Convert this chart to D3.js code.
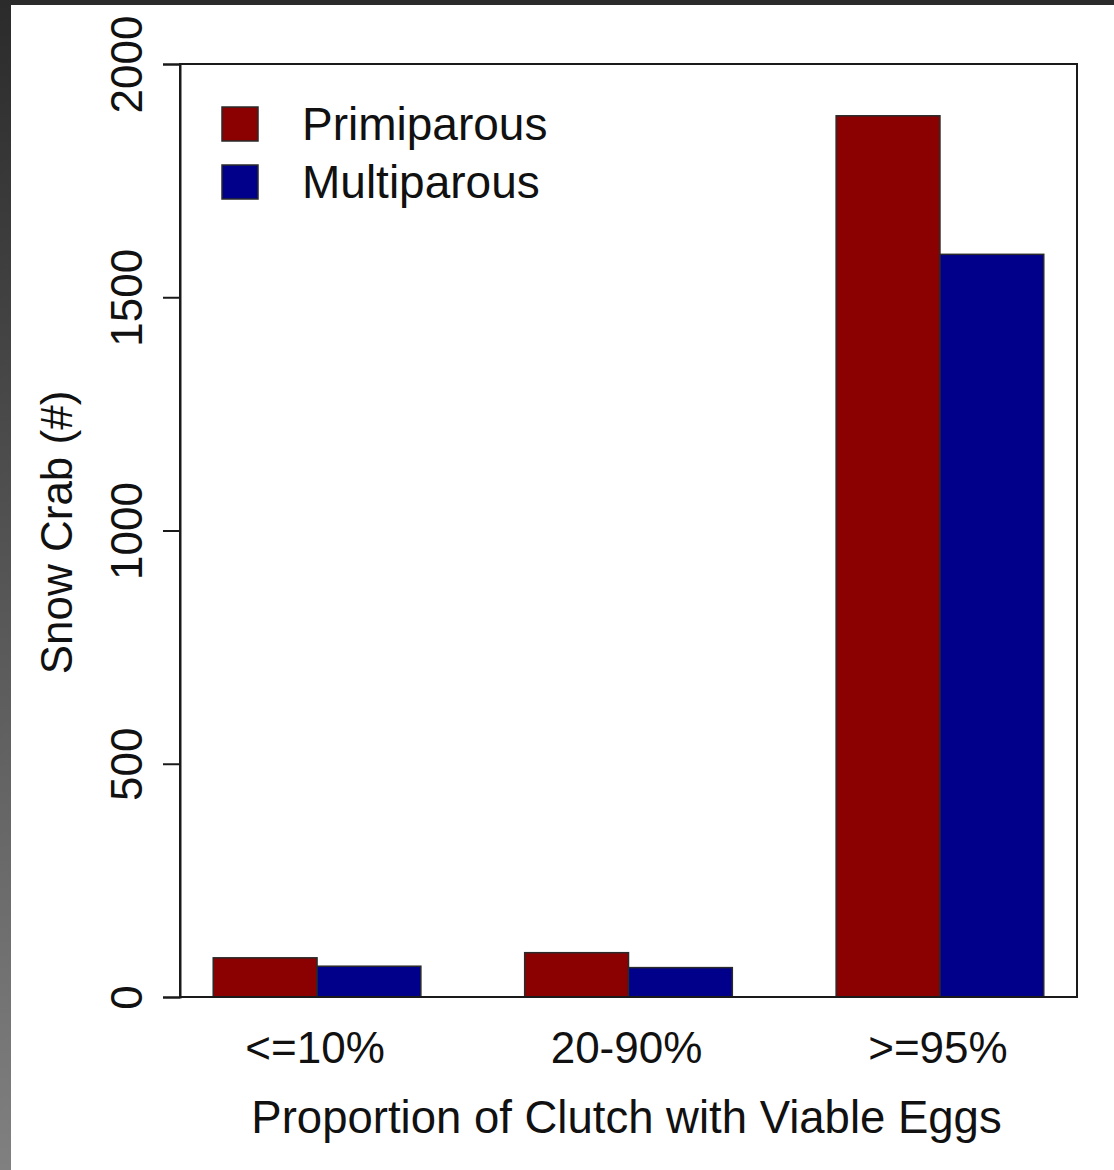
<!DOCTYPE html>
<html>
<head>
<meta charset="utf-8">
<script src="https://cdn.jsdelivr.net/npm/d3@7"></script>
<style>
  html, body { margin: 0; padding: 0; background: #ffffff; }
  svg { display: block; }
  text { font-family: "Liberation Sans", Arial, sans-serif; fill: #111; }
</style>
</head>
<body>
<svg id="chart" width="1114" height="1170"></svg>
<script>
const categories = ["<=10%", "20-90%", ">=95%"];
const seriesNames = ["Primiparous", "Multiparous"];
const primiparous = [84, 95, 1889];
const multiparous = [66, 63, 1592];
const yTicks = [0, 500, 1000, 1500, 2000];
const seriesColors = ["#8b0000", "#00008b"];

const W = 1114, H = 1170;
const svg = d3.select("#chart");

// screenshot border
const defs = svg.append("defs");
const grad = defs.append("linearGradient").attr("id", "leftEdge")
  .attr("x1", 0).attr("y1", 0).attr("x2", 0).attr("y2", 1);
grad.append("stop").attr("offset", "0%").attr("stop-color", "#2b2b2b");
grad.append("stop").attr("offset", "100%").attr("stop-color", "#808080");
svg.append("rect").attr("x", 0).attr("y", 0).attr("width", W).attr("height", 5).attr("fill", "#2b2b2b");
svg.append("rect").attr("x", 0).attr("y", 0).attr("width", 11).attr("height", H).attr("fill", "url(#leftEdge)");

const plot = { left: 180, right: 1077, top: 64, bottom: 997 };

const x0 = d3.scaleBand().domain(categories)
  .range([plot.left, plot.right])
  .paddingInner(1 / 3).paddingOuter(0.1067);
const x1 = d3.scaleBand().domain(seriesNames).range([0, x0.bandwidth()]);
const y = d3.scaleLinear().domain([0, 2000]).range([plot.bottom, plot.top]);
const color = d3.scaleOrdinal().domain(seriesNames).range(seriesColors);

const data = categories.map((c, i) => ({
  cat: c,
  values: [
    { name: seriesNames[0], value: primiparous[i] },
    { name: seriesNames[1], value: multiparous[i] }
  ]
}));

// bars
const groups = svg.append("g").selectAll("g").data(data).join("g")
  .attr("transform", d => `translate(${x0(d.cat)},0)`);
groups.selectAll("rect").data(d => d.values).join("rect")
  .attr("x", d => x1(d.name))
  .attr("y", d => y(d.value))
  .attr("width", x1.bandwidth())
  .attr("height", d => y(0) - y(d.value))
  .attr("fill", d => color(d.name))
  .attr("stroke", "#2a2a2a")
  .attr("stroke-width", 1.5);

// box
svg.append("rect")
  .attr("x", plot.left).attr("y", plot.top)
  .attr("width", plot.right - plot.left).attr("height", plot.bottom - plot.top)
  .attr("fill", "none").attr("stroke", "#1a1a1a").attr("stroke-width", 2);

// y axis
const yAxis = d3.axisLeft(y).tickValues(yTicks).tickSize(17).tickPadding(22).tickFormat(d3.format("d"));
const gy = svg.append("g").attr("transform", `translate(${plot.left},0)`).call(yAxis);
gy.select(".domain").attr("stroke", "#1a1a1a").attr("stroke-width", 2);
gy.selectAll(".tick line").attr("stroke", "#1a1a1a").attr("stroke-width", 2);
gy.selectAll(".tick text")
  .attr("font-size", 44).attr("font-family", "Liberation Sans, Arial, sans-serif").attr("fill", "#111")
  .attr("text-anchor", "middle")
  .attr("x", 0).attr("y", 0).attr("dy", 0)
  .attr("transform", "translate(-38,0) rotate(-90)");

// x labels
svg.append("g").selectAll("text").data(categories).join("text")
  .attr("x", d => x0(d) + x0.bandwidth() / 2 - 2)
  .attr("y", 1063)
  .attr("text-anchor", "middle")
  .attr("font-size", 44)
  .text(d => d);

// axis titles
svg.append("text")
  .attr("x", (plot.left + plot.right) / 2 - 2)
  .attr("y", 1133)
  .attr("text-anchor", "middle")
  .attr("font-size", 45.5)
  .text("Proportion of Clutch with Viable Eggs");

svg.append("text")
  .attr("transform", `translate(72,${(plot.top + plot.bottom) / 2 + 2}) rotate(-90)`)
  .attr("text-anchor", "middle")
  .attr("font-size", 44)
  .text("Snow Crab (#)");

// legend
const legend = svg.append("g");
seriesNames.forEach((n, i) => {
  const cy = 124 + i * 58;
  legend.append("rect")
    .attr("x", 222).attr("y", cy - 17).attr("width", 36).attr("height", 34)
    .attr("fill", color(n)).attr("stroke", "#2a2a2a").attr("stroke-width", 1.5);
  legend.append("text")
    .attr("x", 302).attr("y", cy + 16)
    .attr("font-size", 46)
    .text(n);
});
</script>
</body>
</html>
